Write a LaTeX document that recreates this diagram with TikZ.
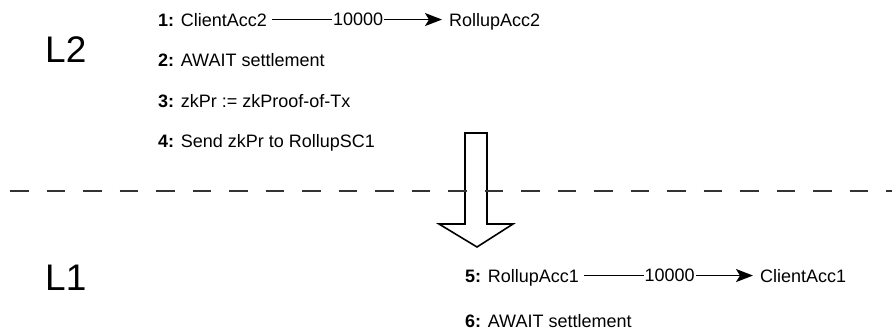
\documentclass[tikz,border=0pt]{standalone}
\usepackage{fontspec}
\setmainfont{Liberation Sans}
\usetikzlibrary{arrows.meta}
\begin{document}
\begin{tikzpicture}[x=1pt,y=-1pt,
  txt/.style={anchor=base west,inner sep=0pt,text height=12.9pt,text depth=0pt,font=\fontsize{18}{21}\selectfont},
  big/.style={anchor=base west,inner sep=0pt,font=\fontsize{37}{44}\selectfont},
  flow/.style={line width=1.8pt,-{Stealth[length=17pt,width=13pt,inset=4pt]},shorten <=5pt,shorten >=7pt},
  amount/.style={fill=white,inner xsep=1pt,inner ysep=0pt,font=\fontsize{18}{21}\selectfont},
  layerline/.style={line width=1.8pt,draw=black!80,dash pattern=on 18.5pt off 18pt},
  bigarrow/.style={line width=1.6pt,line join=miter}]
\useasboundingbox (0,0) rectangle (892,330);
% layer labels
\node[big] (L2) at (45,62) {L2};
\node[big] (L1) at (45,290) {L1};
% L2 steps
\node[txt] (s1) at (158,26) {\textbf{1:} ClientAcc2};
\node[txt] (t1) at (449,26) {RollupAcc2};
\draw[flow] (s1.east) -- node[amount] {10000} (t1.west);
\node[txt] (s2) at (158,66.5) {\textbf{2:} AWAIT settlement};
\node[txt] (s3) at (158,107) {\textbf{3:} zkPr := zkProof-of-Tx};
\node[txt] (s4) at (158,147.5) {\textbf{4:} Send zkPr to RollupSC1};
% big down arrow
\draw[bigarrow] (465,133) -- (487,133) -- (487,224) -- (513,224) -- (477,247) -- (439,224) -- (465,224) -- cycle;
% layer separator
\coordinate (dA) at (10,191);
\coordinate (dB) at (892,191);
\draw[layerline] (dA) -- (dB);
% L1 steps
\node[txt] (s5) at (465,282) {\textbf{5:} RollupAcc1};
\node[txt] (t5) at (760,282) {ClientAcc1};
\draw[flow] (s5.east) -- node[amount] {10000} (t5.west);
\node[txt] (s6) at (465,327.5) {\textbf{6:} AWAIT settlement};
\end{tikzpicture}
\end{document}
